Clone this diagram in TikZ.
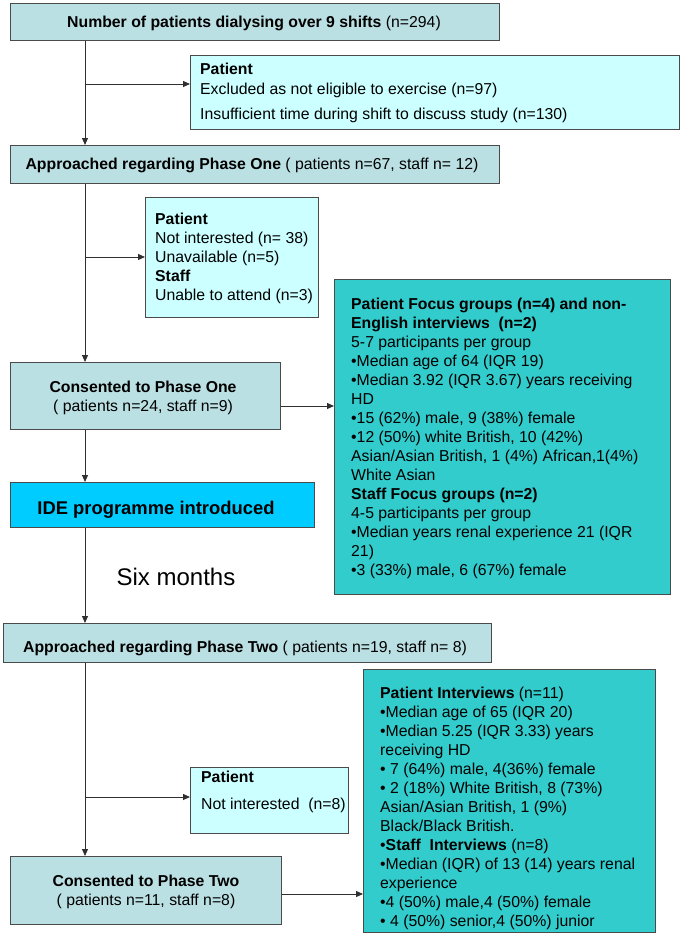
\documentclass[tikz,border=0pt]{standalone}
\usepackage{fontspec}
\setmainfont{Liberation Sans}
\usetikzlibrary{arrows.meta}
\definecolor{mainfill}{HTML}{BBE0E3}
\definecolor{exfill}{HTML}{CCFFFF}
\definecolor{tealfill}{HTML}{33CCCC}
\definecolor{idefill}{HTML}{00CCFF}
\definecolor{edge}{HTML}{4A4A4A}
\definecolor{linecol}{HTML}{303030}
\begin{document}
\begin{tikzpicture}[x=1pt,y=-1pt,
  boxnode/.style={draw=edge, line width=1.2pt, rectangle, inner sep=0pt, anchor=north west},
  txt/.style={inner sep=0pt, font=\fontsize{15.8}{19}\selectfont},
  arr/.style={draw=linecol, line width=1pt, -{Triangle[length=7pt,width=6pt]}},
]
\useasboundingbox (0,0) rectangle (680,934);
\fill[white] (0,0) rectangle (680,934);

% boxes
\node[boxnode, fill=mainfill, minimum width=489pt, minimum height=37pt] (b1) at (10,3) {};
\node[boxnode, fill=exfill, minimum width=489pt, minimum height=74pt] (ex1) at (190,55) {};
\node[boxnode, fill=mainfill, minimum width=489pt, minimum height=38pt] (b2) at (10,145) {};
\node[boxnode, fill=exfill, minimum width=173pt, minimum height=120pt] (ex2) at (145,197) {};
\node[boxnode, fill=tealfill, minimum width=336pt, minimum height=315pt] (teal1) at (334,279) {};
\node[boxnode, fill=mainfill, minimum width=270pt, minimum height=67pt] (c1) at (10,362) {};
\node[boxnode, fill=idefill, minimum width=304pt, minimum height=45pt] (ide) at (10,482) {};
\node[boxnode, fill=mainfill, minimum width=488pt, minimum height=39pt] (app2) at (3,623) {};
\node[boxnode, fill=exfill, minimum width=158pt, minimum height=66pt] (ex3) at (190,767) {};
\node[boxnode, fill=tealfill, minimum width=292pt, minimum height=263pt] (teal2) at (363,669) {};
\node[boxnode, fill=mainfill, minimum width=271pt, minimum height=68pt] (c2) at (10,856) {};

% connectors
\coordinate (tr) at (85,0);
\draw[arr] (b1.south -| tr) -- (b2.north -| tr);
\coordinate (br1) at (85,84);
\draw[arr] (br1) -- (br1 -| ex1.west);
\draw[arr] (b2.south -| tr) -- (c1.north -| tr);
\coordinate (br2) at (85,257);
\draw[arr] (br2) -- (br2 -| ex2.west);
\draw[arr] (c1.south -| tr) -- (ide.north -| tr);
\coordinate (h1) at (0,406);
\draw[arr] (h1 -| c1.east) -- (h1 -| teal1.west);
\draw[arr] (ide.south -| tr) -- (app2.north -| tr);
\coordinate (br3) at (85,797);
\draw[arr] (br3) -- (br3 -| ex3.west);
\draw[arr] (app2.south -| tr) -- (c2.north -| tr);
\coordinate (h2) at (0,894);
\draw[arr] (h2 -| c2.east) -- (h2 -| teal2.west);

% texts
\node[txt, anchor=base] (b1t) at (254,27.5) {\textbf{Number of patients dialysing over 9 shifts} (n=294)};
\node[txt, anchor=north west, align=left] (ex1t) at (200,63) {\textbf{Patient}\\[1pt]
Excluded as not eligible to exercise (n=97)\\[6pt]
Insufficient time during shift to discuss study (n=130)};
\node[txt, anchor=base] (b2t) at (252,169.5) {\textbf{Approached regarding Phase One} ( patients n=67, staff n= 12)};
\node[txt, anchor=north west, align=left] (ex2t) at (155,213) {\textbf{Patient}\\
Not interested (n= 38)\\
Unavailable (n=5)\\
\textbf{Staff}\\
Unable to attend (n=3)};
\node[txt, anchor=north west, align=left] (teal1t) at (351,298) {\textbf{Patient Focus groups (n=4) and non-}\\
\textbf{English interviews\ \ (n=2)}\\
5-7 participants per group\\
•Median age of 64 (IQR 19)\\
•Median 3.92 (IQR 3.67) years receiving\\
HD\\
•15 (62\%) male, 9 (38\%) female\\
•12 (50\%) white British, 10 (42\%)\\
Asian/Asian British, 1 (4\%) African,1(4\%)\\
White Asian\\
\textbf{Staff Focus groups (n=2)}\\
4-5 participants per group\\
•Median years renal experience 21 (IQR\\
21)\\
•3 (33\%) male, 6 (67\%) female};
\node[txt, anchor=north, align=center] (c1t) at (143,381) {\textbf{Consented to Phase One}\\
( patients n=24, staff n=9)};
\node[txt, anchor=base, font=\fontsize{18.4}{22}\selectfont\bfseries] (idet) at (156,514.5) {IDE programme introduced};
\node[txt, anchor=base, font=\fontsize{24}{28}\selectfont] (six) at (176,585.6) {Six months};
\node[txt, anchor=base] (app2t) at (245,652.4) {\textbf{Approached regarding Phase Two} ( patients n=19, staff n= 8)};
\node[txt, anchor=north west, align=left] (ex3t) at (201,771) {\textbf{Patient}\\[8pt]
Not interested\ \ (n=8)};
\node[txt, anchor=north west, align=left] (teal2t) at (380,687) {\textbf{Patient Interviews} (n=11)\\
•Median age of 65 (IQR 20)\\
•Median 5.25 (IQR 3.33) years\\
receiving HD\\
• 7 (64\%) male, 4(36\%) female\\
• 2 (18\%) White British, 8 (73\%)\\
Asian/Asian British, 1 (9\%)\\
Black/Black British.\\
•\textbf{Staff\ \ Interviews} (n=8)\\
•Median (IQR) of 13 (14) years renal\\
experience\\
•4 (50\%) male,4 (50\%) female\\
• 4 (50\%) senior,4 (50\%) junior};
\node[txt, anchor=north, align=center] (c2t) at (146,875) {\textbf{Consented to Phase Two}\\
( patients n=11, staff n=8)};
\end{tikzpicture}
\end{document}
